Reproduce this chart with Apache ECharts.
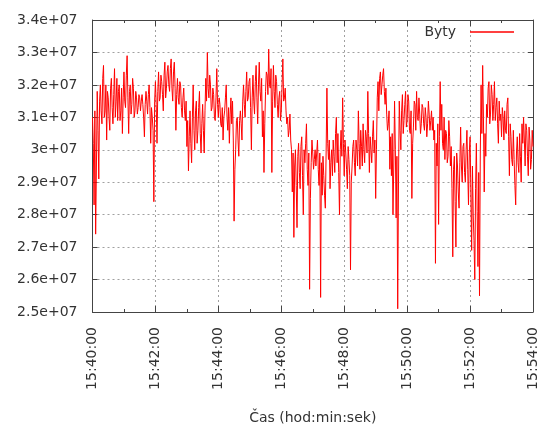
<!DOCTYPE html>
<html>
<head>
<meta charset="utf-8">
<script src="https://cdn.jsdelivr.net/npm/echarts@6/dist/echarts.min.js"></script>
<style>
html,body{margin:0;padding:0;background:#fff;}
#chart{width:545px;height:430px;}
</style>
</head>
<body>
<div id="chart"></div>
<script>
// Time axis: samples every 1.5 s starting at 15:40:00
const startLabel = '15:40:00';
const sampleStepSec = 1.5;
const seriesName = 'Byty';
const xAxisTitle = 'Čas (hod:min:sek)';
const xTickLabels = ['15:40:00','15:42:00','15:44:00','15:46:00','15:48:00','15:50:00','15:52:00','15:54:00'];
const yTickLabels = ['2.5e+07','2.6e+07','2.7e+07','2.8e+07','2.9e+07','3e+07','3.1e+07','3.2e+07','3.3e+07','3.4e+07'];
// Bytes, in millions (one row = one minute)
const bytesMillions = [
31.0,30.2, 28.3,31.2, 27.4,29.5, 31.8,30.6, 29.1,31.5, 32.0,31.2, 30.8,32.2, 32.6,31.0, 31.2,32.0, 30.3,31.8, 31.6,31.0, 30.6,31.9, 32.2,31.3, 30.8,31.7, 32.5,31.0, 31.5,32.2, 30.9,31.8, 32.0,30.9, 31.2,31.9, 30.5,31.6,
32.4,31.5, 31.3,32.3, 32.9,31.6, 30.5,31.8, 32.0,31.1, 31.4,32.2, 31.9,31.0, 31.2,31.8, 31.6,31.1, 31.3,31.7, 31.6,31.2, 31.5,31.7, 31.4,31.0, 30.4,31.4, 31.8,31.5, 31.1,31.7, 32.0,31.3, 30.2,31.3, 31.0,30.6, 28.4,31.5,
32.1,31.4, 30.2,31.8, 32.4,31.5, 31.6,32.3, 32.1,31.7, 31.2,32.3, 32.7,31.6, 31.9,32.4, 32.6,32.0, 31.8,32.5, 32.8,31.9, 31.5,32.4, 32.7,31.9, 30.6,31.7, 32.2,31.6, 31.4,32.1, 32.0,31.3, 31.0,31.6, 31.9,31.2, 30.9,31.5,
30.1,30.9, 29.35,30.4, 31.2,30.2, 29.6,31.0, 32.0,30.6, 30.0,31.2, 31.5,30.2, 30.6,31.3, 31.8,30.5, 29.9,30.8, 31.4,30.6, 29.9,31.2, 32.2,31.5, 33.0,31.9, 31.6,32.3, 32.0,31.2, 31.3,31.9, 31.7,31.0, 30.9,31.6, 32.5,31.4,
31.0,31.6, 31.4,30.8, 30.7,31.3, 30.3,31.0, 31.2,31.6, 32.0,31.0, 30.6,31.3, 30.2,31.1, 31.6,30.8, 31.5,30.3, 27.8,29.4, 30.0,30.9, 31.0,30.3, 29.8,30.9, 31.2,30.8, 30.3,31.5, 32.0,31.4, 31.0,31.8, 32.4,31.5, 31.6,32.1,
32.2,31.3, 30.0,31.6, 32.3,31.5, 31.1,32.1, 32.6,31.6, 30.8,32.0, 32.7,31.8, 31.5,32.2, 30.4,31.2, 29.3,30.8, 31.8,32.4, 32.3,31.7, 33.1,32.0, 31.9,32.5, 29.3,31.5, 32.6,31.8, 31.3,32.3, 32.1,31.4, 31.0,31.6, 31.8,30.9,
31.2,32.0, 32.8,31.5, 31.6,31.9, 31.2,30.8, 31.0,30.4, 30.6,31.1, 30.3,30.0, 28.7,29.9, 27.3,29.5, 30.0,28.9, 27.6,29.8, 30.2,29.3, 28.8,30.1, 30.4,29.2, 28.0,30.0, 29.6,30.2, 30.8,29.4, 28.9,29.9, 25.7,28.5, 29.6,30.3,
29.9,29.4, 29.7,30.0, 29.5,29.9, 30.3,29.4, 28.9,29.9, 25.45,29.6, 28.6,29.8, 29.2,28.6, 28.2,29.9, 31.9,30.2, 29.7,30.3, 28.8,29.6, 30.0,29.2, 30.3,29.8, 29.3,30.5, 31.0,29.6, 30.5,29.3, 28.0,30.0, 30.6,29.8, 31.6,30.2,
29.2,30.3, 29.9,29.4, 28.8,30.1, 29.7,29.2, 26.3,29.0, 29.5,30.1, 30.3,29.6, 29.2,30.3, 30.0,29.5, 31.2,30.2, 29.4,30.6, 30.1,29.5, 30.8,30.0, 29.6,30.6, 30.4,29.9, 31.8,30.5, 29.3,30.4, 30.0,29.6, 30.4,30.9, 29.9,30.3,
28.5,30.0, 31.6,32.1, 31.2,32.2, 32.4,31.7, 32.0,32.3, 32.5,31.8, 31.4,31.9, 31.1,30.6, 30.8,31.2, 29.4,30.4, 29.2,30.5, 28.0,29.5, 31.5,30.0, 27.9,29.8, 25.1,29.0, 31.5,30.6, 30.0,31.2, 31.7,30.5, 30.9,31.4, 31.8,30.7,
30.9,31.7, 31.5,30.6, 30.5,31.2, 28.5,30.2, 30.7,31.5, 31.4,30.6, 31.8,31.0, 30.9,31.6, 31.1,30.5, 30.8,31.4, 31.3,30.8, 30.6,31.3, 31.0,30.4, 30.8,31.5, 31.1,30.6, 30.9,31.2, 30.6,31.0, 30.3,30.6, 26.5,30.2, 29.5,30.8,
27.7,30.4, 32.1,30.6, 31.4,30.2, 30.0,31.0, 29.7,30.6, 30.5,29.6, 29.8,30.9, 30.4,29.5, 30.1,28.8, 26.7,29.4, 29.8,28.4, 27.0,29.9, 29.5,28.7, 28.2,29.6, 30.7,29.5, 29.0,30.1, 30.2,29.3, 29.0,30.0, 30.6,29.4, 28.3,29.9,
30.4,28.7, 26.9,29.5, 28.0,27.2, 26.0,28.8, 30.2,28.1, 26.4,29.3, 25.5,29.9, 32.0,30.5, 32.6,31.0, 28.7,30.5, 29.8,31.4, 31.0,31.9, 32.1,30.8, 31.1,32.0, 31.7,30.9, 31.4,32.1, 30.9,31.3, 31.6,30.8, 30.2,31.5, 30.9,31.1,
30.4,31.3, 31.0,30.3, 31.2,30.6, 30.5,31.4, 31.6,30.4, 29.2,30.8, 30.4,29.7, 29.5,30.6, 29.7,28.9, 28.3,29.9, 30.4,29.6, 29.3,30.5, 29.8,29.0, 30.8,30.2, 31.0,30.3, 29.5,30.8, 30.6,29.8, 29.2,30.7, 30.3,29.4, 29.7,30.6, 30.1
];

const seriesData = bytesMillions.map((v, i) => [i * sampleStepSec, v * 1e6]);

const FONT = 'DejaVu Sans';
const TXT = '#333';
const FRAME = '#444';
const xMax = (xTickLabels.length - 1) * 120;

const chart = echarts.init(document.getElementById('chart'), null, {renderer: 'canvas'});
const baseX = {
  type: 'value', min: 0, max: xMax, interval: 120,
  axisLine: {show: true, onZero: false, lineStyle: {color: FRAME, width: 1}},
  axisTick: {show: true, inside: true, length: 6, lineStyle: {color: FRAME}},
  minorTick: {show: true, splitNumber: 2, length: 3, lineStyle: {color: FRAME}},
};
const baseY = {
  type: 'value', min: 25e6, max: 34e6, interval: 1e6,
  axisLine: {show: true, onZero: false, lineStyle: {color: FRAME, width: 1}},
  axisTick: {show: true, inside: true, length: 5, lineStyle: {color: FRAME}},
};
chart.setOption({
  animation: false,
  backgroundColor: '#fff',
  grid: {left: 92.5, right: 12, top: 20, bottom: 118, containLabel: false},
  legend: {
    right: 31, top: 25, padding: 0, align: 'right',
    icon: 'rect', itemWidth: 44, itemHeight: 1.5,
    textStyle: {fontFamily: FONT, fontSize: 14, color: TXT},
    formatter: n => n + '  ',
    data: [seriesName]
  },
  xAxis: [
    Object.assign({}, baseX, {
      position: 'bottom',
      name: xAxisTitle, nameLocation: 'middle', nameGap: 99,
      nameTextStyle: {fontFamily: FONT, fontSize: 14, color: TXT},
      axisLabel: {rotate: 90, margin: 15, fontFamily: FONT, fontSize: 14, color: TXT,
        formatter: v => xTickLabels[Math.round(v / 120)] || ''},
      splitLine: {show: true, lineStyle: {color: '#a0a0a0', type: [2, 3], width: 1}}
    }),
    Object.assign({}, baseX, {
      position: 'top', axisLabel: {show: false}, splitLine: {show: false}
    })
  ],
  yAxis: [
    Object.assign({}, baseY, {
      position: 'left',
      axisLabel: {margin: 15, fontFamily: FONT, fontSize: 14, color: TXT,
        formatter: v => yTickLabels[Math.round((v - 25e6) / 1e6)] || ''},
      splitLine: {show: true, lineStyle: {color: '#a0a0a0', type: [2, 3], width: 1}}
    }),
    Object.assign({}, baseY, {
      position: 'right', axisLabel: {show: false}, splitLine: {show: false}
    })
  ],
  series: [{
    name: seriesName, type: 'line', xAxisIndex: 0, yAxisIndex: 0,
    data: seriesData, showSymbol: false, symbol: 'none',
    lineStyle: {color: '#ff0000', width: 1},
    itemStyle: {color: '#ff0000'}
  }]
});
</script>
</body>
</html>
